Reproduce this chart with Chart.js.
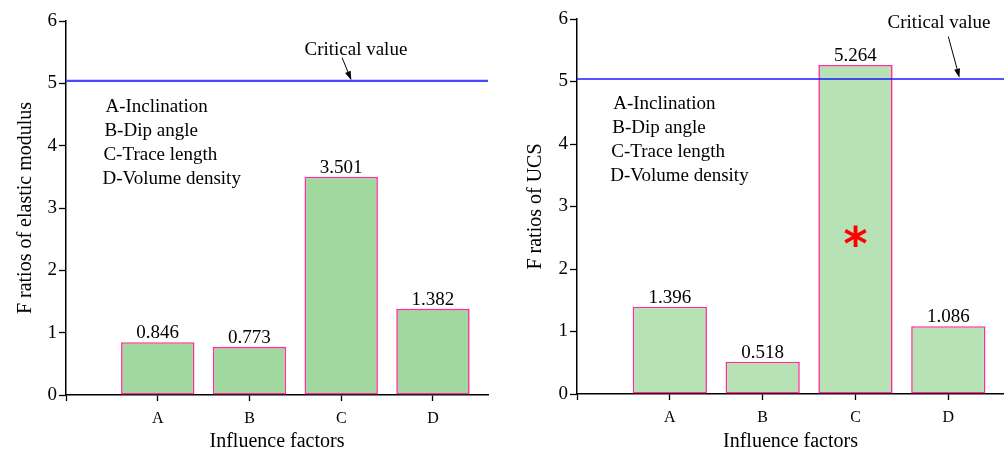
<!DOCTYPE html>
<html>
<head>
<meta charset="utf-8">
<script src="https://cdn.jsdelivr.net/npm/chart.js@4.4.1/dist/chart.umd.min.js"></script>
<style>
  html, body { margin: 0; padding: 0; background: #fff; }
  #wrap { position: relative; width: 1004px; height: 454px; }
  #wrap canvas { position: absolute; top: 0; }
  #modulus { left: 0; }
  #ucs { left: 500px; }
</style>
</head>
<body>
<div id="wrap">
  <canvas id="modulus" width="500" height="454"></canvas>
  <canvas id="ucs" width="504" height="454"></canvas>
</div>
<script>
// factors on the x axis and their positions
const factors = ['A', 'B', 'C', 'D'];
const factorPos = [1, 2, 3, 4];
const factorNotes = ['A-Inclination', 'B-Dip angle', 'C-Trace length', 'D-Volume density'];

// F ratios from the variance analysis
const modulusF = [0.846, 0.773, 3.501, 1.382];
const ucsF = [1.396, 0.518, 5.264, 1.086];
const criticalF = 5.04;

const yTicks = [0, 1, 2, 3, 4, 5, 6];
const xMax = 4.6;

const serif = 'Liberation Serif';

// value labels, factor notes, critical value callout, asterisk
const extras = {
  id: 'extras',
  afterDatasetsDraw(chart, args, opts) {
    const ctx = chart.ctx;
    const xs = chart.scales.x, ys = chart.scales.y;
    const px = v => xs.getPixelForValue(v);
    const py = v => ys.getPixelForValue(v);
    ctx.save();
    ctx.fillStyle = '#000';

    // numbers above the bars
    const meta = chart.getDatasetMeta(1);
    ctx.font = '19px "' + serif + '"';
    ctx.textAlign = 'center';
    ctx.textBaseline = 'alphabetic';
    meta.data.forEach((bar, i) => {
      const v = chart.data.datasets[1].data[i].y;
      ctx.fillText(v.toFixed(3), bar.x, bar.y - 4);
    });

    // factor notes
    ctx.textAlign = 'left';
    ctx.textBaseline = 'middle';
    factorNotes.forEach((t, i) => {
      ctx.fillText(t, px(opts.notes.x) - i, py(opts.notes.y - i * opts.notes.step));
    });

    // critical value callout
    const c = opts.callout;
    ctx.textAlign = 'center';
    ctx.fillText('Critical value', px(c.text[0]), py(c.text[1]));
    const x0 = px(c.from[0]), y0 = py(c.from[1]);
    const x1 = px(c.to[0]), y1 = py(c.to[1]);
    const ang = Math.atan2(y1 - y0, x1 - x0);
    ctx.strokeStyle = '#000';
    ctx.lineWidth = 1;
    ctx.beginPath();
    ctx.moveTo(x0, y0);
    ctx.lineTo(x1 - 6 * Math.cos(ang), y1 - 6 * Math.sin(ang));
    ctx.stroke();
    ctx.beginPath();
    ctx.moveTo(x1, y1);
    ctx.lineTo(x1 - 9 * Math.cos(ang) + 3 * Math.sin(ang), y1 - 9 * Math.sin(ang) - 3 * Math.cos(ang));
    ctx.lineTo(x1 - 9 * Math.cos(ang) - 3 * Math.sin(ang), y1 - 9 * Math.sin(ang) + 3 * Math.cos(ang));
    ctx.closePath();
    ctx.fill();

    // significance mark (baseline sits below the glyph)
    if (opts.star) {
      ctx.fillStyle = '#ff0000';
      ctx.font = 'bold 46px "DejaVu Sans"';
      ctx.textBaseline = 'alphabetic';
      ctx.fillText('*', px(opts.star[0]), py(opts.star[1]));
    }
    ctx.restore();
  }
};

function makeChart(id, values, o) {
  return new Chart(document.getElementById(id), {
    type: 'bar',
    data: {
      datasets: [{
        type: 'line',
        data: [{ x: 0, y: criticalF }, { x: xMax, y: criticalF }],
        borderColor: o.lineColor,
        borderWidth: o.lineWidth,
        pointRadius: 0,
        order: 0
      }, {
        data: factorPos.map((x, i) => ({ x: x, y: values[i] })),
        backgroundColor: o.fill,
        borderColor: '#ff2d96',
        borderWidth: 1.6,
        borderSkipped: false,
        barPercentage: 0.8,
        categoryPercentage: 1,
        order: 1
      }]
    },
    options: {
      responsive: false,
      animation: false,
      layout: { padding: o.padding },
      plugins: {
        legend: { display: false },
        tooltip: { enabled: false },
        extras: o.extras
      },
      scales: {
        x: {
          type: 'linear',
          min: 0,
          max: xMax,
          offset: false,
          afterBuildTicks: s => { s.ticks = [0].concat(factorPos).map(v => ({ value: v })); },
          afterFit: s => { s.height = o.xHeight; },
          grid: { drawOnChartArea: false, offset: false, color: '#000', tickLength: 6, tickWidth: 1.3 },
          border: { color: '#000', width: 1.5 },
          ticks: {
            color: '#000',
            font: { family: serif, size: 16 },
            padding: 8,
            maxRotation: 0,
            callback: v => (v === 0 ? '' : factors[v - 1])
          },
          title: {
            display: true,
            text: 'Influence factors',
            color: '#000',
            font: { family: serif, size: 20 },
            padding: { top: 0, bottom: 0 }
          }
        },
        y: {
          min: 0,
          max: 6,
          afterBuildTicks: s => { s.ticks = yTicks.map(v => ({ value: v })); },
          afterFit: s => { s.width = o.yWidth; },
          grid: { drawOnChartArea: false, color: '#000', tickLength: 7, tickWidth: 1.3 },
          border: { color: '#000', width: 1.5 },
          ticks: { color: '#000', font: { family: serif, size: 19 }, padding: 2 },
          title: {
            display: true,
            text: o.yTitle,
            color: '#000',
            font: { family: serif, size: 20 },
            padding: { top: o.yTitlePad, bottom: 0 }
          }
        }
      }
    },
    plugins: [extras]
  });
}

makeChart('modulus', modulusF, {
  yTitle: 'F ratios of elastic modulus',
  fill: '#a0d8a0',
  lineColor: '#4848ff',
  lineWidth: 2.2,
  padding: { top: 21, right: 12, bottom: 0, left: 0 },
  yWidth: 66,
  xHeight: 59,
  yTitlePad: 14,
  extras: {
    notes: { x: 0.43, y: 4.62, step: 0.385 },
    callout: { text: [3.16, 5.54], from: [3.01, 5.41], to: [3.11, 5.05] }
  }
});

makeChart('ucs', ucsF, {
  yTitle: 'F ratios of UCS',
  fill: '#b6e2b6',
  lineColor: '#1a1aff',
  lineWidth: 1.5,
  padding: { top: 19, right: 0, bottom: 0, left: 0 },
  yWidth: 77,
  xHeight: 60,
  yTitlePad: 24,
  extras: {
    notes: { x: 0.39, y: 4.64, step: 0.384 },
    callout: { text: [3.9, 5.94], from: [4.0, 5.72], to: [4.12, 5.06] },
    star: [3.0, 2.14]
  }
});
</script>
</body>
</html>
